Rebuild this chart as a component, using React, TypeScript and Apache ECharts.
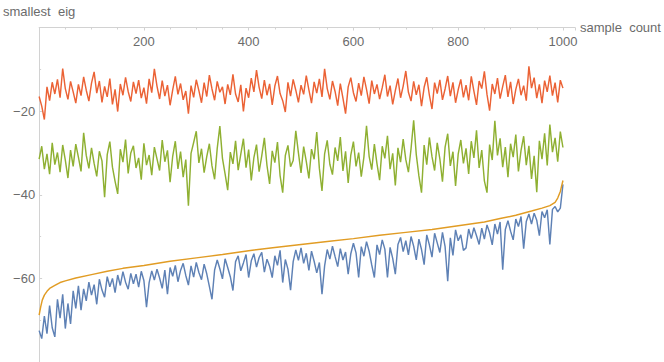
import React, { useEffect, useRef } from "react";
import * as echarts from "echarts";

const SAMPLE_STEP = 5;

const redValues = [
  -16.5, -18.8, -22.0, -14.2, -17.5, -13.1, -15.9, -12.4, -16.8, -9.8, -14.6, -17.2, -12.9, -15.4, -18.1, -13.6, -16.3, -11.8, -15.0, -17.6,
  -13.3, -10.6, -15.7, -12.8, -17.9, -14.1, -16.6, -12.2, -18.4, -14.8, -20.1, -13.5, -16.2, -11.9, -15.3, -17.7, -13.0, -15.8, -12.6, -16.9,
  -14.4, -18.2, -12.3, -15.6, -9.9, -14.0, -17.1, -12.7, -16.4, -13.8, -18.6, -14.9, -11.7, -16.0, -13.4, -17.3, -15.2, -20.6, -13.9, -16.7,
  -12.5, -15.1, -18.0, -13.2, -16.5, -11.4, -14.7, -17.4, -12.9, -15.5, -14.2, -18.3, -13.6, -16.1, -11.2, -15.9, -17.8, -13.7, -20.1, -14.5,
  -16.8, -12.1, -15.4, -10.2, -14.3, -17.0, -12.6, -16.2, -13.5, -18.5, -14.0, -11.6, -15.8, -17.5, -20.2, -13.1, -16.4, -12.4, -15.0, -17.9,
  -13.8, -16.0, -11.5, -14.9, -18.1, -13.0, -15.7, -12.3, -16.6, -9.9, -14.6, -17.2, -12.8, -15.3, -18.7, -13.4, -16.9, -20.6, -14.2, -12.0,
  -15.6, -17.7, -13.3, -16.3, -11.8, -14.8, -18.2, -12.7, -15.9, -13.6, -17.1, -14.4, -11.3, -16.5, -13.9, -18.4, -15.1, -12.2, -16.8, -14.0,
  -10.4, -15.5, -17.6, -12.9, -16.1, -13.7, -18.8, -14.3, -11.9, -16.2, -19.5, -13.2, -15.8, -12.5, -17.3, -14.7, -11.6, -16.4, -13.1, -18.0,
  -14.9, -12.4, -16.7, -13.8, -17.4, -11.7, -15.2, -18.5, -12.8, -14.6, -10.5, -16.0, -19.9, -13.5, -15.9, -12.1, -17.0, -14.1, -11.4, -16.6,
  -13.0, -18.3, -14.8, -12.3, -16.2, -13.9, -17.5, -9.3, -14.5, -12.0, -16.9, -13.6, -18.1, -12.7, -15.4, -11.5, -16.3, -13.2, -17.9, -12.6,
  -14.5,
];

const greenValues = [
  -31.5, -28.4, -33.9, -30.2, -35.1, -27.6, -32.8, -29.9, -34.6, -28.1, -31.7, -36.0, -29.3, -33.2, -27.9, -31.0, -34.4, -25.2, -30.6, -33.7,
  -28.8, -32.5, -35.6, -29.6, -31.9, -40.6, -30.4, -27.3, -33.4, -36.8, -39.8, -29.1, -32.2, -26.8, -34.9, -30.0, -28.3, -33.6, -31.2, -36.4,
  -27.7, -32.9, -30.5, -35.3, -28.6, -31.4, -34.2, -26.9, -32.1, -29.4, -37.0, -30.8, -27.2, -33.8, -29.7, -35.8, -31.6, -42.6, -30.1, -27.5,
  -24.8, -32.4, -29.0, -34.7, -30.9, -27.8, -33.1, -36.3, -28.9, -23.6, -31.3, -35.0, -38.9, -29.8, -32.6, -27.1, -34.1, -30.3, -26.6, -33.5,
  -29.2, -36.6, -31.1, -28.0, -34.5, -30.7, -26.4, -33.0, -37.4, -29.5, -32.3, -27.4, -35.4, -39.5, -30.6, -28.2, -33.3, -31.8, -24.7, -30.0,
  -34.8, -28.5, -32.0, -36.1, -29.1, -31.5, -25.0, -33.7, -39.1, -30.2, -27.0, -32.7, -35.2, -28.7, -31.9, -26.2, -34.3, -29.6, -37.2, -30.5,
  -27.3, -33.2, -29.9, -35.7, -31.0, -23.5, -30.8, -34.0, -27.9, -32.6, -36.5, -28.4, -31.3, -25.9, -33.9, -30.1, -37.8, -28.8, -32.2, -26.7,
  -31.6, -34.6, -29.0, -22.2, -30.4, -35.5, -39.5, -28.1, -32.8, -26.3, -30.9, -34.2, -27.6, -31.4, -36.9, -28.6, -25.4, -33.1, -29.7, -37.9,
  -30.3, -26.9, -32.5, -28.9, -35.0, -27.2, -31.2, -24.6, -33.6, -29.3, -36.7, -39.5, -28.0, -31.7, -22.3, -30.6, -26.5, -33.4, -28.6, -35.8,
  -27.8, -31.0, -25.6, -34.4, -29.4, -26.0, -32.9, -28.3, -36.2, -30.7, -39.4, -27.1, -31.5, -25.3, -33.0, -23.2, -29.8, -26.4, -32.1, -24.9,
  -28.7,
];

const blueValues = [
  -72.5, -74.4, -69.0, -73.2, -66.5, -71.8, -74.0, -65.0, -69.5, -63.8, -72.0, -66.0, -70.9, -63.0, -67.2, -61.8, -67.6, -62.5, -65.4, -60.9,
  -64.0, -61.5, -66.2, -60.2, -62.8, -64.5, -59.6, -62.0, -60.0, -63.4, -59.2, -61.7, -58.4, -60.9, -62.6, -58.8, -61.3, -59.0, -62.1, -58.3,
  -60.5, -66.9, -61.0, -58.2, -60.4, -57.8, -59.9, -62.4, -58.0, -63.8, -57.4, -59.5, -56.9, -60.8, -58.1, -56.4, -59.3, -61.6, -57.0, -59.7,
  -56.2, -58.6, -60.3, -56.6, -58.9, -61.9, -65.0, -58.0, -55.6, -57.7, -60.1, -55.3, -57.4, -59.6, -62.9, -56.0, -54.6, -58.2, -56.3, -54.3,
  -59.8, -55.8, -54.1, -57.3, -55.0, -53.8, -58.5, -55.4, -57.1, -59.8, -54.6, -56.9, -53.3, -61.0, -55.5, -57.8, -62.8, -56.0, -53.2, -55.7,
  -52.7, -56.4, -54.0, -58.1, -53.5, -55.9, -58.7, -56.2, -63.8, -57.0, -53.1, -55.4, -52.3, -54.8, -57.2, -52.9, -55.6, -53.7, -59.0, -54.1,
  -51.6, -53.9, -59.8, -52.4, -54.7, -51.2, -53.5, -56.8, -59.8, -52.0, -54.3, -50.8, -53.0, -59.8, -52.6, -55.2, -59.0, -51.9, -50.2, -53.6,
  -51.0, -54.4, -50.0, -52.3, -55.6, -50.6, -53.1, -56.7, -49.6, -52.0, -54.9, -49.2, -51.5, -53.8, -49.0, -52.4, -60.7, -50.3, -54.5, -48.4,
  -51.0, -49.6, -53.3, -52.7, -48.2, -50.5, -47.9, -49.8, -51.9, -48.0, -50.6, -47.2, -49.1, -52.0, -47.0, -49.4, -46.5, -57.9, -48.3, -46.2,
  -48.7, -50.8, -45.8, -47.6, -45.2, -52.9, -46.4, -44.6, -47.0, -44.4, -46.1, -49.8, -44.0, -45.5, -43.6, -51.9, -43.5, -42.8, -44.1, -43.2,
  -37.5,
];

const boundSamples = [0, 3, 6, 10, 15, 20, 30, 40, 50, 70, 100, 130, 160, 200, 250, 300, 350, 400, 450, 500, 550, 600, 650, 700, 750, 800, 850, 880, 910, 940, 960, 975, 985, 990, 995, 1000];
const boundValues = [-68.8, -66.8, -65.2, -64.0, -63.1, -62.4, -61.7, -61.0, -60.6, -59.9, -59.1, -58.3, -57.6, -56.9, -55.9, -55.1, -54.3, -53.4, -52.6, -51.9, -51.2, -50.5, -49.7, -49.0, -48.3, -47.4, -46.5, -45.7, -44.9, -43.9, -43.2, -42.6, -41.8, -40.8, -39.2, -36.6];

const xTicks = [200, 400, 600, 800, 1000];
const yTicks = [-20, -40, -60];

const toPairs = (vals: number[]) => vals.map((v, i) => [i * SAMPLE_STEP, v]);

export default function App() {
  const ref = useRef<HTMLDivElement>(null);
  useEffect(() => {
    if (!ref.current) return;
    const chart = echarts.init(ref.current, null, { renderer: "svg" });
    const axisColor = "#d2d2d2";
    const labelColor = "#6b6b6b";
    const font = "Liberation Sans";
    const lw = 1.45;
    chart.setOption({
      animation: false,
      backgroundColor: "#ffffff",
      grid: { left: 37, top: 27.5, width: 538, height: 338, containLabel: false },
      xAxis: {
        type: "value",
        position: "top",
        min: 0,
        max: 1023,
        interval: 200,
        name: "sample  count",
        nameLocation: "end",
        nameGap: 5,
        nameTextStyle: { color: labelColor, fontSize: 13, fontFamily: font, verticalAlign: "middle", padding: [2, 0, 0, 0] },
        axisLine: { show: true, lineStyle: { color: axisColor, width: 1 } },
        axisTick: { show: true, inside: true, length: 3, lineStyle: { color: axisColor } },
        minorTick: { show: true, splitNumber: 4, length: 2, lineStyle: { color: axisColor } },
        splitLine: { show: false },
        axisLabel: {
          inside: true,
          margin: 7,
          color: labelColor,
          fontSize: 13,
          fontFamily: font,
          showMinLabel: false,
          formatter: (v: number) => (xTicks.includes(v) ? String(v) : ""),
        },
      },
      yAxis: {
        type: "value",
        min: -80,
        max: 0,
        interval: 20,
        name: "smallest  eig",
        nameLocation: "end",
        nameGap: 10,
        nameTextStyle: { color: labelColor, fontSize: 13, fontFamily: font },
        axisLine: { show: true, onZero: false, lineStyle: { color: axisColor, width: 1 } },
        axisTick: { show: true, inside: true, length: 3, lineStyle: { color: axisColor } },
        minorTick: { show: true, splitNumber: 2, length: 2, lineStyle: { color: axisColor } },
        splitLine: { show: false },
        axisLabel: {
          margin: 4,
          color: labelColor,
          fontSize: 13,
          fontFamily: font,
          formatter: (v: number) => (yTicks.includes(v) ? "\u2212" + Math.abs(v) : ""),
        },
      },
      series: [
        {
          type: "line",
          data: toPairs(redValues),
          showSymbol: false,
          lineStyle: { color: "#EB6235", width: lw },
          itemStyle: { color: "#EB6235" },
        },
        {
          type: "line",
          data: toPairs(greenValues),
          showSymbol: false,
          lineStyle: { color: "#8FB032", width: lw },
          itemStyle: { color: "#8FB032" },
        },
        {
          type: "line",
          data: toPairs(blueValues),
          showSymbol: false,
          lineStyle: { color: "#5E81B5", width: lw },
          itemStyle: { color: "#5E81B5" },
        },
        {
          type: "line",
          data: boundSamples.map((s, i) => [s, boundValues[i]]),
          showSymbol: false,
          lineStyle: { color: "#E19C24", width: lw },
          itemStyle: { color: "#E19C24" },
        },
      ],
    });
    return () => chart.dispose();
  }, []);
  return <div ref={ref} style={{ position: "fixed", left: 0, top: 0, width: 664, height: 362 }} />;
}
